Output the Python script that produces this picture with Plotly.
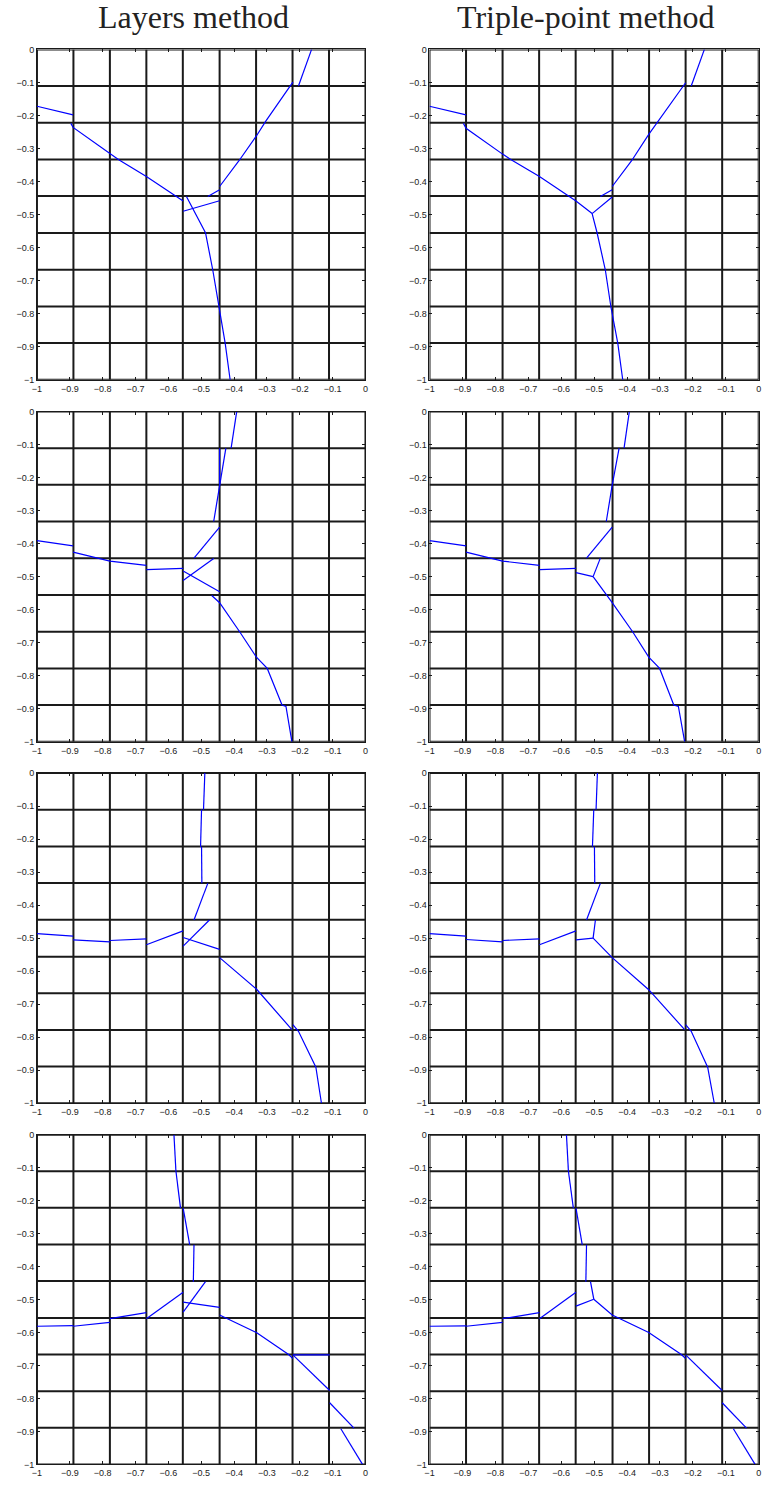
import plotly.graph_objects as go

# ---------------- data ----------------
titles = ["Layers method", "Triple-point method"]

# computational mesh (9 x 9 cells on [-1,0]^2)
mesh = [-1.0, -0.889, -0.778, -0.667, -0.556, -0.444, -0.333, -0.222, -0.111, 0.0]

tick_vals = [-1.0, -0.9, -0.8, -0.7, -0.6, -0.5, -0.4, -0.3, -0.2, -0.1, 0.0]
tick_text = ["−1", "−0.9", "−0.8", "−0.7", "−0.6", "−0.5", "−0.4", "−0.3", "−0.2", "−0.1", "0"]

# reconstructed interface pieces (polylines of (x, y)) for each panel
layers_1 = [
    [(-1.0, -0.172), (-0.890, -0.198)],
    [(-0.897, -0.224), (-0.890, -0.236), (-0.778, -0.315), (-0.751, -0.334), (-0.667, -0.385), (-0.555, -0.459)],
    [(-0.480, -0.445), (-0.444, -0.425)],
    [(-0.444, -0.415), (-0.385, -0.337), (-0.332, -0.262), (-0.304, -0.218), (-0.221, -0.099)],
    [(-0.204, -0.111), (-0.164, 0.0)],
    [(-0.555, -0.490), (-0.444, -0.458)],
    [(-0.545, -0.445), (-0.487, -0.555), (-0.465, -0.667), (-0.447, -0.779), (-0.427, -0.890), (-0.412, -1.0)],
]
triple_1 = [
    [(-1.0, -0.172), (-0.889, -0.198)],
    [(-0.897, -0.224), (-0.889, -0.239), (-0.778, -0.317), (-0.752, -0.334), (-0.666, -0.385), (-0.555, -0.459), (-0.506, -0.497)],
    [(-0.506, -0.497), (-0.445, -0.447)],
    [(-0.506, -0.497), (-0.491, -0.555), (-0.466, -0.667), (-0.449, -0.779), (-0.428, -0.890), (-0.413, -1.0)],
    [(-0.481, -0.445), (-0.445, -0.425)],
    [(-0.445, -0.415), (-0.386, -0.337), (-0.334, -0.257), (-0.306, -0.218), (-0.222, -0.101)],
    [(-0.205, -0.111), (-0.165, 0.0)],
]
layers_2 = [
    [(-1.0, -0.391), (-0.890, -0.407)],
    [(-0.890, -0.426), (-0.778, -0.453), (-0.667, -0.466)],
    [(-0.667, -0.479), (-0.555, -0.475)],
    [(-0.555, -0.483), (-0.444, -0.546)],
    [(-0.555, -0.512), (-0.462, -0.445)],
    [(-0.522, -0.444), (-0.444, -0.350)],
    [(-0.462, -0.333), (-0.444, -0.223), (-0.425, -0.111)],
    [(-0.444, -0.111), (-0.444, -0.223)],
    [(-0.409, -0.111), (-0.392, 0.0)],
    [(-0.468, -0.557), (-0.444, -0.579), (-0.383, -0.667), (-0.332, -0.744), (-0.299, -0.778),
     (-0.254, -0.889), (-0.242, -0.893), (-0.224, -1.0)],
]
triple_2 = [
    [(-1.0, -0.391), (-0.889, -0.407)],
    [(-0.889, -0.426), (-0.778, -0.453), (-0.666, -0.466)],
    [(-0.666, -0.479), (-0.555, -0.475)],
    [(-0.555, -0.488), (-0.503, -0.500)],
    [(-0.503, -0.500), (-0.481, -0.444)],
    [(-0.503, -0.500), (-0.460, -0.557), (-0.445, -0.579), (-0.383, -0.667), (-0.334, -0.744),
     (-0.301, -0.778), (-0.258, -0.889), (-0.244, -0.893), (-0.225, -1.0)],
    [(-0.523, -0.444), (-0.445, -0.350)],
    [(-0.463, -0.333), (-0.445, -0.223), (-0.424, -0.111)],
    [(-0.409, -0.111), (-0.393, 0.0)],
]
layers_3 = [
    [(-1.0, -0.486), (-0.890, -0.494)],
    [(-0.890, -0.505), (-0.778, -0.511)],
    [(-0.778, -0.507), (-0.667, -0.502)],
    [(-0.667, -0.520), (-0.555, -0.478)],
    [(-0.555, -0.498), (-0.444, -0.534)],
    [(-0.555, -0.524), (-0.475, -0.445)],
    [(-0.522, -0.445), (-0.480, -0.334)],
    [(-0.489, 0.0), (-0.493, -0.110)],
    [(-0.499, -0.110), (-0.502, -0.223)],
    [(-0.499, -0.223), (-0.498, -0.334)],
    [(-0.444, -0.559), (-0.332, -0.654), (-0.224, -0.777)],
    [(-0.221, -0.762), (-0.204, -0.782), (-0.151, -0.891), (-0.134, -1.0)],
]
triple_3 = [
    [(-1.0, -0.486), (-0.889, -0.494)],
    [(-0.889, -0.504), (-0.778, -0.511)],
    [(-0.778, -0.507), (-0.666, -0.502)],
    [(-0.666, -0.520), (-0.555, -0.478)],
    [(-0.555, -0.505), (-0.503, -0.500)],
    [(-0.503, -0.500), (-0.496, -0.445)],
    [(-0.503, -0.500), (-0.445, -0.559), (-0.334, -0.656), (-0.225, -0.777)],
    [(-0.222, -0.762), (-0.205, -0.782), (-0.155, -0.891), (-0.135, -1.0)],
    [(-0.523, -0.445), (-0.481, -0.334)],
    [(-0.490, 0.0), (-0.494, -0.110)],
    [(-0.501, -0.110), (-0.505, -0.223)],
    [(-0.499, -0.223), (-0.498, -0.334)],
]
layers_4 = [
    [(-1.0, -0.581), (-0.890, -0.579)],
    [(-0.890, -0.581), (-0.778, -0.569)],
    [(-0.778, -0.558), (-0.667, -0.540)],
    [(-0.667, -0.558), (-0.555, -0.478)],
    [(-0.555, -0.508), (-0.444, -0.524)],
    [(-0.555, -0.538), (-0.487, -0.446)],
    [(-0.583, 0.0), (-0.577, -0.111)],
    [(-0.577, -0.111), (-0.563, -0.223)],
    [(-0.555, -0.223), (-0.535, -0.334)],
    [(-0.522, -0.334), (-0.524, -0.446)],
    [(-0.444, -0.547), (-0.332, -0.600), (-0.234, -0.667), (-0.221, -0.679)],
    [(-0.221, -0.668), (-0.109, -0.668)],
    [(-0.221, -0.668), (-0.109, -0.776)],
    [(-0.109, -0.813), (-0.035, -0.890)],
    [(-0.075, -0.892), (-0.009, -1.0)],
]
triple_4 = [
    [(-1.0, -0.581), (-0.889, -0.580)],
    [(-0.889, -0.581), (-0.778, -0.569)],
    [(-0.778, -0.558), (-0.666, -0.540)],
    [(-0.666, -0.558), (-0.555, -0.478)],
    [(-0.555, -0.520), (-0.501, -0.499)],
    [(-0.501, -0.499), (-0.511, -0.446)],
    [(-0.501, -0.499), (-0.445, -0.547), (-0.334, -0.600), (-0.235, -0.667), (-0.222, -0.679)],
    [(-0.222, -0.668), (-0.111, -0.776)],
    [(-0.111, -0.813), (-0.037, -0.890)],
    [(-0.077, -0.892), (-0.011, -1.0)],
    [(-0.584, 0.0), (-0.578, -0.111)],
    [(-0.578, -0.111), (-0.563, -0.223)],
    [(-0.555, -0.223), (-0.536, -0.334)],
    [(-0.523, -0.334), (-0.525, -0.446)],
]

panels = [layers_1, triple_1, layers_2, triple_2, layers_3, triple_3, layers_4, triple_4]

# ---------------- layout geometry (pixels) ----------------
W, H = 762, 1485
col_px = [(32.3, 364.3), (429.0, 761.7)]
row_px = [(44.7, 377.3), (409.3, 741.7), (773.3, 1105.7), (1137.3, 1469.3)]

fig = go.Figure()
layout_axes = {}

for i, segs in enumerate(panels):
    r, c = divmod(i, 2)
    sfx = "" if i == 0 else str(i + 1)
    xa, ya = "x" + sfx, "y" + sfx

    # mesh lines
    mx, my = [], []
    lo, hi = mesh[0], mesh[-1]
    for v in mesh:
        mx += [v, v, None]
        my += [lo, hi, None]
        mx += [lo, hi, None]
        my += [v, v, None]
    fig.add_trace(go.Scatter(x=mx, y=my, mode="lines",
                             line=dict(color="#1a1a1a", width=2),
                             xaxis=xa, yaxis=ya, hoverinfo="skip", showlegend=False))

    # interface pieces
    ix, iy = [], []
    for poly in segs:
        for (px, py) in poly:
            ix.append(px)
            iy.append(py)
        ix.append(None)
        iy.append(None)
    fig.add_trace(go.Scatter(x=ix, y=iy, mode="lines",
                             line=dict(color="#0000ff", width=1.2),
                             xaxis=xa, yaxis=ya, hoverinfo="skip", showlegend=False))

    x0, x1 = col_px[c]
    y0, y1 = row_px[r]
    common = dict(range=[-1, 0], tickvals=tick_vals, ticktext=tick_text,
                  showgrid=False, zeroline=False, showline=True, linecolor="#1a1a1a",
                  linewidth=1, mirror="ticks", ticks="inside", ticklen=3,
                  tickcolor="#1a1a1a", tickwidth=1,
                  tickfont=dict(family="Liberation Sans, Arial", size=9, color="#222222"))
    layout_axes["xaxis" + sfx] = dict(common, domain=[x0 / W, x1 / W], anchor=ya)
    layout_axes["yaxis" + sfx] = dict(common, domain=[1 - y1 / H, 1 - y0 / H], anchor=xa)

fig.update_layout(**layout_axes)

title_x_px = [190, 587]
for t, xp in zip(titles, title_x_px):
    fig.add_annotation(text=t, x=xp / W, y=1 - 12 / H, xref="paper", yref="paper",
                       xanchor="center", yanchor="middle", showarrow=False,
                       font=dict(family="Liberation Serif, Times New Roman, serif", size=32, color="#222222"))

fig.update_layout(width=W, height=H, margin=dict(l=0, r=0, t=0, b=0),
                  plot_bgcolor="white", paper_bgcolor="white", showlegend=False)

fig.write_html("out.html", config={"displayModeBar": False, "staticPlot": True},
               post_script="document.body.style.margin='0';document.body.style.overflow='hidden';")
